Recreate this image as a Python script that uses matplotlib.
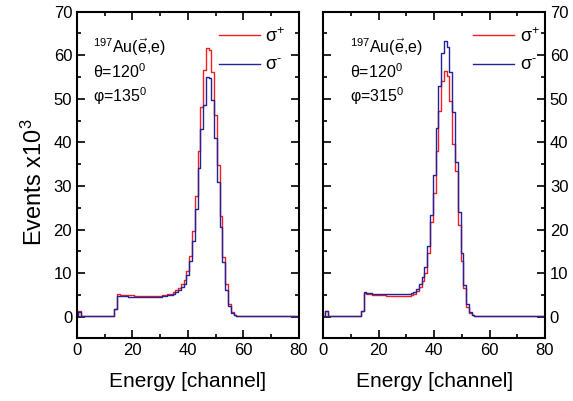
import numpy as np
import matplotlib
matplotlib.use('Agg')
import matplotlib.pyplot as plt
from matplotlib.ticker import MultipleLocator

plt.rcParams['font.family'] = ['Liberation Sans', 'DejaVu Sans']
plt.rcParams['mathtext.fontset'] = 'custom'
plt.rcParams['mathtext.rm'] = 'Liberation Sans'
plt.rcParams['mathtext.it'] = 'Liberation Sans:italic'

# channel numbers (bins centred on integers)
channel = np.arange(81)

left_plus_head = [0.1, 1.3] + [0.1] * 12 + [1.7, 5.2,
                  5.0, 5.0, 5.0, 4.9, 4.9, 4.8, 4.8, 4.8, 4.8, 4.8,
                  4.7, 4.7, 4.7, 4.8, 4.8, 4.9, 5.0, 5.1, 5.3, 5.6,
                  6.1, 6.6, 7.5, 8.3, 10.4, 14.0, 19.6, 27.6, 38.0, 48.2,
                  56.7, 61.6, 61.3, 56.2, 46.2, 34.7, 23.0, 13.8, 7.5, 3.0,
                  1.0, 0.4]
left_minus_head = [0.1, 1.0] + [0.1] * 12 + [1.7, 4.8,
                   4.7, 4.7, 4.7, 4.6, 4.6, 4.6, 4.6, 4.6, 4.5, 4.5,
                   4.5, 4.5, 4.5, 4.6, 4.6, 4.7, 4.8, 4.9, 5.0, 5.3,
                   5.7, 6.2, 6.9, 7.5, 9.6, 12.7, 17.3, 24.7, 34.2, 43.0,
                   48.5, 54.9, 54.7, 49.7, 41.1, 30.9, 20.5, 12.5, 6.2, 2.5,
                   0.9, 0.35]

# right panel, phi = 315 deg
right_plus_head = [0.1, 1.3] + [0.1] * 12 + [1.2, 5.4,
                   5.1, 5.1, 5.0, 5.0, 5.0, 4.9, 4.9, 4.8, 4.8, 4.8,
                   4.8, 4.7, 4.7, 4.8, 4.8, 4.8, 4.9, 5.2, 5.8, 6.9,
                   8.1, 10.0, 14.7, 21.8, 28.4, 38.0, 47.2, 54.1, 56.5, 55.3,
                   49.5, 39.6, 33.4, 21.1, 12.7, 6.5, 2.3, 0.8, 0.3]
right_minus_head = [0.1, 1.3] + [0.1] * 12 + [1.2, 5.6,
                    5.4, 5.4, 5.3, 5.3, 5.3, 5.2, 5.2, 5.2, 5.2, 5.2,
                    5.2, 5.1, 5.1, 5.1, 5.1, 5.2, 5.4, 5.7, 6.3, 7.5,
                    9.1, 11.3, 16.2, 23.4, 32.6, 43.3, 53.0, 60.5, 63.2, 61.8,
                    56.1, 46.9, 35.5, 24.0, 14.6, 7.3, 2.9, 1.0, 0.4]


def pad(head):
    return np.array(head + [0.1] * (len(channel) - len(head)))


panels = [
    (pad(left_plus_head), pad(left_minus_head), '135', 0.071, 0.565),
    (pad(right_plus_head), pad(right_minus_head), '315', 0.12, 0.60),
]

red = '#f01e1e'
blue = '#22229a'

fig = plt.figure(figsize=(5.73, 4.01), dpi=100)
ax_left = fig.add_axes([0.1344, 0.1561, 0.3869, 0.8147])
ax_right = fig.add_axes([0.5644, 0.1561, 0.3867, 0.8147])

for ax, (plus, minus, phi, tx, lx) in zip([ax_left, ax_right], panels):
    ax.plot(channel, plus, ds='steps-mid', color=red, lw=1.0, label='σ$^{+}$')
    ax.plot(channel, minus, ds='steps-mid', color=blue, lw=1.0, label='σ$^{\u2010}$')
    ax.set_xlim(0, 80)
    ax.set_ylim(-5, 70)
    ax.xaxis.set_major_locator(MultipleLocator(20))
    ax.xaxis.set_minor_locator(MultipleLocator(10))
    ax.yaxis.set_major_locator(MultipleLocator(10))
    ax.yaxis.set_minor_locator(MultipleLocator(5))
    ax.tick_params(which='both', direction='in', top=True, right=True,
                   width=1.2, labelsize=12)
    ax.tick_params(which='major', length=6)
    ax.tick_params(which='minor', length=3)
    for s in ax.spines.values():
        s.set_linewidth(1.5)
    ax.set_xlabel('Energy [channel]', fontsize=15, labelpad=10)

    ax.text(tx, 0.892, '$^{197}$Au($\\vec{\\mathrm{e}}$,e)', transform=ax.transAxes,
            fontsize=11.5, va='center')
    ax.text(tx, 0.815, 'θ=120$^0$', transform=ax.transAxes, fontsize=11.5, va='center')
    ax.text(tx, 0.742, 'φ=' + phi + '$^0$', transform=ax.transAxes, fontsize=11.5, va='center')

    ax.legend(loc='upper left', bbox_to_anchor=(lx, 1.003), frameon=False,
              fontsize=13, handlelength=2.3, handletextpad=0.3, labelspacing=0.62)

ax_right.tick_params(labelleft=False, labelright=True)
fig.text(0.06, 0.545, 'Events x10$^3$', rotation=90, fontsize=17,
         ha='center', va='center')

fig.savefig('out.png', dpi=100)
